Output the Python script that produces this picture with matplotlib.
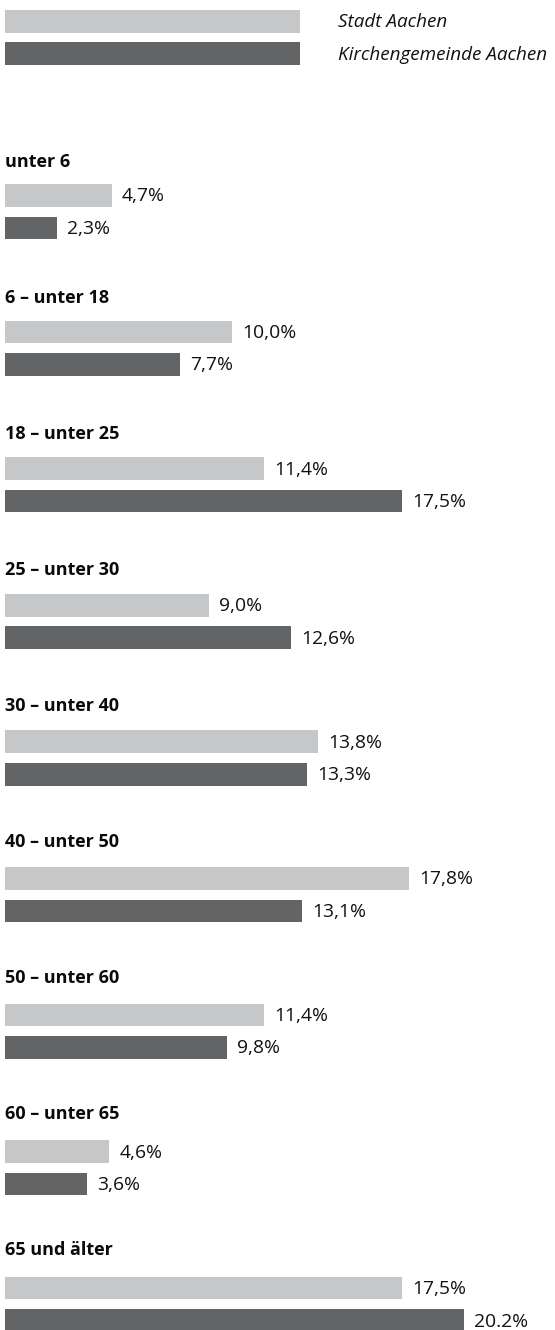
import matplotlib
matplotlib.use("Agg")
import matplotlib.pyplot as plt

plt.rcParams['font.family'] = ['Open Sans', 'DejaVu Sans']

# data
categories = ["unter 6", "6 – unter 18", "18 – unter 25", "25 – unter 30",
              "30 – unter 40", "40 – unter 50", "50 – unter 60", "60 – unter 65",
              "65 und älter"]
stadt = [4.7, 10.0, 11.4, 9.0, 13.8, 17.8, 11.4, 4.6, 17.5]
kirche = [2.3, 7.7, 17.5, 12.6, 13.3, 13.1, 9.8, 3.6, 20.2]
stadt_labels = ["4,7%", "10,0%", "11,4%", "9,0%", "13,8%", "17,8%", "11,4%", "4,6%", "17,5%"]
kirche_labels = ["2,3%", "7,7%", "17,5%", "12,6%", "13,3%", "13,1%", "9,8%", "3,6%", "20.2%"]
series_names = ["Stadt Aachen", "Kirchengemeinde Aachen"]

light = "#c6c7c9"
dark = "#636466"

px_per_pct = 22.7
fig = plt.figure(figsize=(5.55, 13.3), dpi=100)
ax = fig.add_axes([0, 0, 1, 1])
ax.set_xlim(-5 / px_per_pct, 550 / px_per_pct)
ax.set_ylim(1330, 0)
ax.axis("off")

bar_h = 22.7
# legend swatches
leg_len = 295 / px_per_pct
for k, (name, col) in enumerate(zip(series_names, [light, dark])):
    top = 10 + 32.3 * k
    ax.barh(top + bar_h / 2, leg_len, height=bar_h, left=0, color=col, linewidth=0)
    ax.text(333 / px_per_pct, top + bar_h / 2 + 1, name, style="italic", fontsize=13.6,
            va="center", ha="left", color="#111111")

# groups
for i, cat in enumerate(categories):
    base = 167 + 136 * i
    ax.text(0, base, cat, fontweight="bold", fontsize=13, va="baseline", ha="left",
            color="#0a0a0a")
    top = 184 + 136.6 * i
    for v, lab, col, off in [(stadt[i], stadt_labels[i], light, 0),
                             (kirche[i], kirche_labels[i], dark, 32.5)]:
        yc = top + off + bar_h / 2
        ax.barh(yc, v, height=bar_h, left=0, color=col, linewidth=0)
        ax.text(v + 10 / px_per_pct, yc + 1, lab, fontsize=13.9, va="center", ha="left",
                color="#111111")

fig.savefig("out.png", dpi=100)
